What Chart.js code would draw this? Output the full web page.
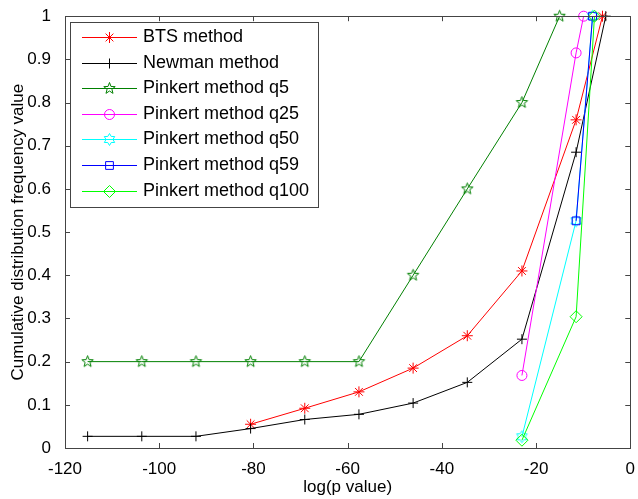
<!DOCTYPE html>
<html lang="en">
<head>
<meta charset="UTF-8">
<title>Cumulative distribution frequency</title>
<script src="https://cdn.jsdelivr.net/npm/chart.js"></script>
<style>
    html, body { margin: 0; padding: 0; background: #fff; }
    #wrap { width: 638px; height: 499px; }
</style>
</head>
<body>
<div id="wrap"><canvas id="cdfChart" width="638" height="499"></canvas></div>
<script>
// tick values
const xTicks = [-120, -100, -80, -60, -40, -20, 0];
const yTicks = [0, 0.1, 0.2, 0.3, 0.4, 0.5, 0.6, 0.7, 0.8, 0.9, 1];

// series values
const btsX = [-80.6, -69.1, -57.6, -46.1, -34.6, -23.0, -11.5, -5.9];
const btsY = [0.055, 0.092, 0.13, 0.185, 0.26, 0.41, 0.76, 1];
const newmanX = [-115.2, -103.7, -92.2, -80.6, -69.1, -57.6, -46.1, -34.6, -23.0, -11.5, -5.2];
const newmanY = [0.027, 0.027, 0.027, 0.045, 0.066, 0.078, 0.104, 0.152, 0.252, 0.685, 1];
const q5X = [-115.2, -103.7, -92.2, -80.6, -69.1, -57.6, -46.1, -34.6, -23.0, -15.0];
const q5Y = [0.2, 0.2, 0.2, 0.2, 0.2, 0.2, 0.4, 0.6, 0.8, 1];
const q25X = [-23.0, -11.5, -9.9];
const q25Y = [0.168, 0.915, 1];
const q50X = [-23.0, -11.5, -8.0];
const q50Y = [0.026, 0.526, 1];
const q59X = [-11.5, -8.0];
const q59Y = [0.526, 1];
const q100X = [-23.0, -11.5, -7.6];
const q100Y = [0.018, 0.304, 1];

const FONT = "'Liberation Sans', Arial, sans-serif";

function pts(xs, ys) {
    return xs.map((x, i) => ({ x: x, y: ys[i] }));
}

// star shaped markers (matlab 'p' and 'h') drawn on small canvases
function starMarker(color, n, outer, innerRatio) {
    const size = 2 * Math.ceil(outer + 2) + 1;
    const c = document.createElement('canvas');
    c.width = size; c.height = size;
    const g = c.getContext('2d');
    const cx = size / 2, cy = size / 2;
    g.strokeStyle = color;
    g.lineWidth = 1;
    g.beginPath();
    for (let i = 0; i < n * 2; i++) {
        const r = i % 2 === 0 ? outer : outer * innerRatio;
        const a = -Math.PI / 2 + i * Math.PI / n;
        const px = cx + r * Math.cos(a), py = cy + r * Math.sin(a);
        if (i === 0) g.moveTo(px, py); else g.lineTo(px, py);
    }
    g.closePath();
    g.stroke();
    return c;
}

const pentagram = starMarker('#008000', 5, 6, 0.42);
const hexagram = starMarker('#00ffff', 6, 6, 0.58);

function series(label, xs, ys, color, style, radius, order) {
    return {
        label: label,
        data: pts(xs, ys),
        borderColor: color,
        backgroundColor: color,
        pointBorderColor: color,
        pointBackgroundColor: 'rgba(0,0,0,0)',
        pointStyle: style,
        pointRadius: radius,
        pointBorderWidth: 1,
        borderWidth: 1,
        tension: 0,
        clip: false,
        order: order
    };
}

const datasets = [
    series('BTS method', btsX, btsY, '#ff0000', 'star', 5.5, 6),
    series('Newman method', newmanX, newmanY, '#000000', 'cross', 5, 5),
    series('Pinkert method q5', q5X, q5Y, '#008000', pentagram, 6, 4),
    series('Pinkert method q25', q25X, q25Y, '#ff00ff', 'circle', 5, 3),
    series('Pinkert method q50', q50X, q50Y, '#00ffff', hexagram, 6, 2),
    series('Pinkert method q59', q59X, q59Y, '#0000ff', 'rect', 5.5, 1),
    series('Pinkert method q100', q100X, q100Y, '#00ff00', 'rectRot', 6, 0)
];

// matlab style box with inward ticks
const boxFrame = {
    id: 'boxFrame',
    afterDatasetsDraw(chart) {
        const ctx = chart.ctx;
        const a = chart.chartArea;
        const xs = chart.scales.x, ys = chart.scales.y;
        const t = 5;
        ctx.save();
        ctx.strokeStyle = '#444';
        ctx.lineWidth = 1;
        ctx.strokeRect(Math.round(a.left) + 0.5, Math.round(a.top) + 0.5,
            Math.round(a.right - a.left), Math.round(a.bottom - a.top));
        ctx.beginPath();
        xTicks.forEach(v => {
            const px = Math.round(xs.getPixelForValue(v)) + 0.5;
            ctx.moveTo(px, a.bottom); ctx.lineTo(px, a.bottom - t);
            ctx.moveTo(px, a.top); ctx.lineTo(px, a.top + t);
        });
        yTicks.forEach(v => {
            const py = Math.round(ys.getPixelForValue(v)) + 0.5;
            ctx.moveTo(a.left, py); ctx.lineTo(a.left + t, py);
            ctx.moveTo(a.right, py); ctx.lineTo(a.right - t, py);
        });
        ctx.stroke();
        ctx.restore();
    }
};

// legend box inside the plot, top left
const boxLegend = {
    id: 'boxLegend',
    afterDraw(chart) {
        const ctx = chart.ctx;
        const x0 = 70, y0 = 22, w = 248, h = 185, row = 25.6;
        ctx.save();
        ctx.fillStyle = '#fff';
        ctx.fillRect(x0, y0, w, h);
        ctx.strokeStyle = '#444';
        ctx.lineWidth = 1;
        ctx.strokeRect(x0 + 0.5, y0 + 0.5, w, h);
        ctx.font = '18px ' + FONT;
        ctx.textBaseline = 'middle';
        chart.data.datasets.forEach((ds, i) => {
            const y = Math.round(y0 + 15 + i * row) + 0.5;
            ctx.strokeStyle = ds.borderColor;
            ctx.beginPath();
            ctx.moveTo(82, y); ctx.lineTo(137, y);
            ctx.stroke();
            ctx.fillStyle = 'rgba(0,0,0,0)';
            Chart.helpers.drawPoint(ctx, {
                pointStyle: ds.pointStyle, radius: ds.pointRadius, borderWidth: 1, rotation: 0
            }, 109.5, y);
            ctx.fillStyle = '#000';
            ctx.fillText(ds.label, 143, y);
        });
        ctx.restore();
    }
};

const tickFont = { family: FONT, size: 17 };

new Chart(document.getElementById('cdfChart').getContext('2d'), {
    type: 'line',
    data: { datasets: datasets },
    options: {
        responsive: false,
        animation: false,
        layout: { padding: { left: 0, top: 13, right: 5, bottom: 0 } },
        plugins: { legend: { display: false }, tooltip: { enabled: false } },
        scales: {
            x: {
                type: 'linear',
                min: -120, max: 0,
                afterBuildTicks: s => { s.ticks = xTicks.map(v => ({ value: v })); },
                afterFit: s => { s.height = 51; },
                grid: { display: false },
                border: { display: false },
                ticks: { font: tickFont, color: '#000', padding: 3, maxRotation: 0,
                    callback: v => String(v) },
                title: { display: true, text: 'log(p value)', color: '#000',
                    font: { family: FONT, size: 17 }, padding: { top: 0, bottom: 1 } }
            },
            y: {
                type: 'linear',
                min: 0, max: 1,
                afterBuildTicks: s => { s.ticks = yTicks.map(v => ({ value: v })); },
                afterFit: s => { s.width = 65; },
                grid: { display: false },
                border: { display: false },
                ticks: { font: tickFont, color: '#000', padding: 6,
                    callback: v => String(Math.round(v * 10) / 10) },
                title: { display: true, text: 'Cumulative distribution frequency value', color: '#000',
                    font: { family: FONT, size: 17 }, padding: { top: 8, bottom: 0 } }
            }
        }
    },
    plugins: [boxFrame, boxLegend]
});
</script>
</body>
</html>
